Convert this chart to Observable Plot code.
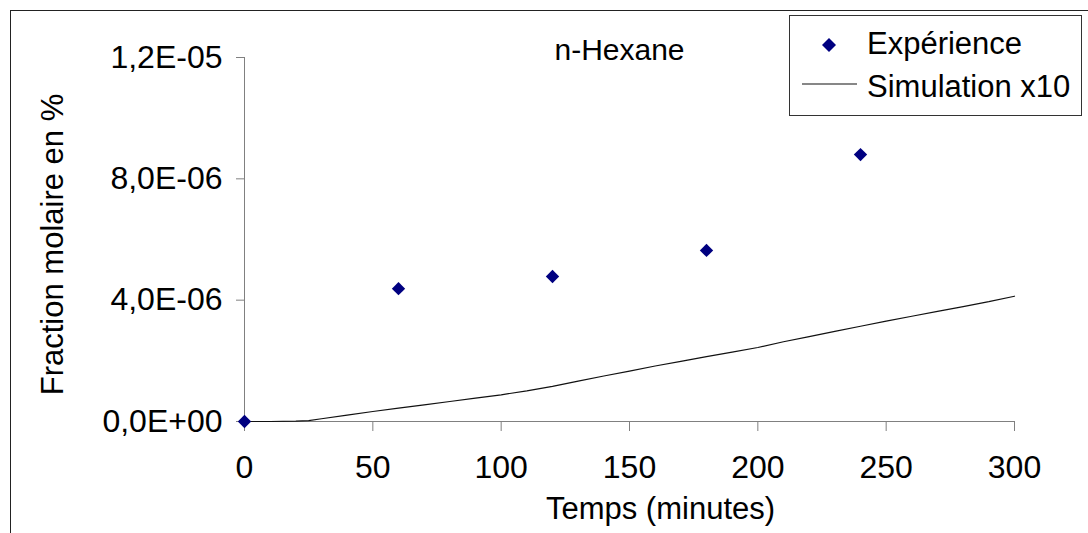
<!DOCTYPE html>
<html>
<head>
<meta charset="utf-8">
<script src="https://cdn.jsdelivr.net/npm/d3@7"></script>
<script src="https://cdn.jsdelivr.net/npm/@observablehq/plot@0.6"></script>
<style>
  html, body { margin: 0; padding: 0; background: #fff; }
  #wrap { position: relative; width: 1088px; height: 533px; overflow: hidden; font-family: "Liberation Sans", Arial, sans-serif; }
  #frame { position: absolute; left: 10px; top: 10px; width: 1200px; height: 600px; border: 1px solid #222; box-sizing: border-box; }
  #chart { position: absolute; left: 0; top: 0; }
  #legend { position: absolute; left: 789px; top: 15px; width: 293px; height: 101px; border: 1px solid #333; box-sizing: border-box; background: #fff; }
  .lg { position: absolute; font-size: 31px; color: #000; line-height: 1; white-space: nowrap; }
</style>
</head>
<body>
<div id="wrap">
  <div id="frame"></div>
  <div id="chart"></div>
  <div id="legend"></div>
</div>
<script>
// ---- data ----
const expTime = [0, 60, 120, 180, 240];
const expFrac = [0, 4.38e-6, 4.78e-6, 5.64e-6, 8.80e-6];

const simTime = [0, 10, 20, 25, 30, 40, 50, 60, 70, 80, 90, 100, 110, 120, 130, 140, 150, 160, 170, 180, 190, 200, 210, 220, 230, 240, 250, 260, 270, 280, 290, 300];
const simFrac = [0, 0, 0.01e-6, 0.03e-6, 0.09e-6, 0.21e-6, 0.33e-6, 0.44e-6, 0.55e-6, 0.66e-6, 0.77e-6, 0.88e-6, 1.01e-6, 1.16e-6, 1.33e-6, 1.50e-6, 1.66e-6, 1.83e-6, 1.98e-6, 2.14e-6, 2.29e-6, 2.44e-6, 2.63e-6, 2.80e-6, 2.97e-6, 3.14e-6, 3.31e-6, 3.47e-6, 3.63e-6, 3.79e-6, 3.95e-6, 4.13e-6];

const xTicks = [0, 50, 100, 150, 200, 250, 300];
const yTicks = [0, 4e-6, 8e-6, 1.2e-5];

const title = "n-Hexane";
const xLabel = "Temps (minutes)";
const yLabel = "Fraction molaire en %";
const seriesNames = ["Expérience", "Simulation x10"];

// ---- build ----
const expData = expTime.map((t, i) => ({t, v: expFrac[i]}));
const simData = simTime.map((t, i) => ({t, v: simFrac[i]}));

function fmtE(d) {
  const [m, e] = d.toExponential(1).split("e");
  const sign = e[0] === "-" ? "-" : "+";
  const digits = e.replace(/^[+-]/, "").padStart(2, "0");
  return m.replace(".", ",") + "E" + sign + digits;
}

const chart = Plot.plot({
  width: 1088,
  height: 533,
  marginLeft: 244,
  marginRight: 74,
  marginTop: 57,
  marginBottom: 112,
  style: { fontFamily: "'Liberation Sans', Arial, sans-serif", fontSize: "32px", background: "transparent", color: "#000" },
  x: { domain: [0, 300] },
  y: { domain: [0, 1.2e-5] },
  marks: [
    Plot.axisY({ ticks: yTicks, tickFormat: fmtE, tickSize: 8, tickPadding: 14, stroke: "#808080", fill: "#000", label: null, fontSize: 32 }),
    Plot.axisX({ ticks: xTicks, tickFormat: d => String(d), tickSize: 10, tickPadding: 24, stroke: "#808080", fill: "#000", label: null, fontSize: 32 }),
    Plot.ruleX([0], { stroke: "#808080" }),
    Plot.ruleY([0], { stroke: "#808080" }),
    Plot.line(simData, { x: "t", y: "v", stroke: "#111", strokeWidth: 1.2 }),
    Plot.dot(expData, { x: "t", y: "v", symbol: "diamond2", r: 6, fill: "#000080", stroke: "none" }),
    Plot.text([title], { frameAnchor: "top", lineAnchor: "top", dx: -10, dy: -19, fontSize: 30, fill: "#000" }),
    Plot.text([xLabel], { frameAnchor: "bottom", lineAnchor: "top", dx: 31, dy: 75, fontSize: 31, fill: "#000" }),
    Plot.text([yLabel], { frameAnchor: "left", textAnchor: "middle", rotate: -90, dx: -191, dy: 5, fontSize: 31, fill: "#000" })
  ]
});
document.getElementById("chart").appendChild(chart);

// ---- legend ----
const legend = document.getElementById("legend");
const ox = 789, oy = 15;
legend.innerHTML =
  `<svg width="293" height="101" style="position:absolute;left:-1px;top:-1px">
     <path d="M${829-ox},${45-oy-7} L${829-ox+7},${45-oy} L${829-ox},${45-oy+7} L${829-ox-7},${45-oy} Z" fill="#000080"/>
     <line x1="${802-ox}" x2="${857-ox}" y1="${84-oy}" y2="${84-oy}" stroke="#111" stroke-width="1.2"/>
   </svg>
   <div class="lg" style="left:${866-ox}px;top:${27-oy}px">${seriesNames[0]}</div>
   <div class="lg" style="left:${866-ox}px;top:${70-oy}px">${seriesNames[1]}</div>`;
</script>
</body>
</html>
